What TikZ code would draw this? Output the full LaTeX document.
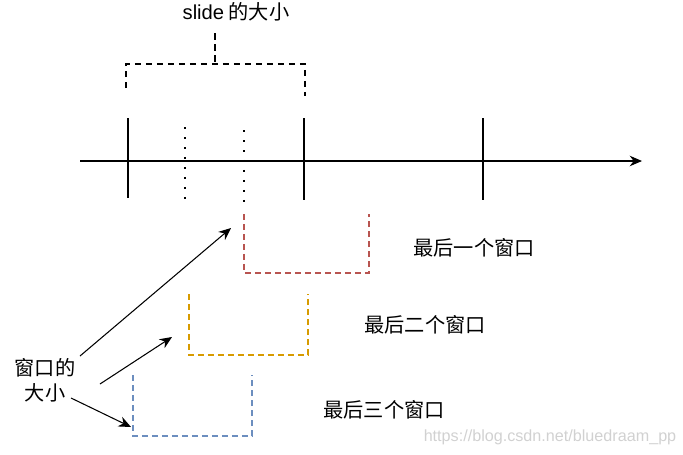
\documentclass[tikz,border=0pt]{standalone}
\usepackage{fontspec}
\setmainfont{Liberation Sans}
\newfontfamily\cjk{Noto Sans CJK SC}
\usepackage{tikz}
\usetikzlibrary{arrows.meta}
\definecolor{winred}{HTML}{B85450}
\definecolor{winorange}{HTML}{D79B00}
\definecolor{winblue}{HTML}{6C8EBF}
\tikzstyle{arrow} = [line width=0.6pt,-{Stealth[length=7pt,width=6pt]}]
\tikzstyle{tick} = [line width=0.6pt]
\tikzstyle{dotline} = [line width=1.2pt,dash pattern=on 1.2pt off 4.49pt]
\tikzstyle{win} = [line width=1.1pt,dash pattern=on 0.12cm off 0.08cm]
\tikzstyle{lbl} = [font=\fontsize{11.5}{14}\selectfont\cjk, inner sep=1pt]

\begin{document}
\begin{tikzpicture}[x=0.02cm,y=-0.02cm]
                            \useasboundingbox (0,0) rectangle (683,454);
                            \node[lbl] (slidelbl) at (236,12) {{\rmfamily slide} 的大小};
                            \draw [line width=1.1pt,dash pattern=on 0.13cm off 0.09cm] (215,33) -- (215,64);
                            \draw [line width=1.1pt,dash pattern=on 0.13cm off 0.09cm] (126,88) -- (126,64) -- (305,64) -- (305,96);
                            \coordinate (axl) at (80,161);
                            \coordinate (axr) at (642,161);
                            \draw [arrow] (axl) -- (axr);
                            \draw [tick] (128,118) -- (128,198);
                            \draw [tick] (304,118) -- (304,200);
                            \draw [tick] (483,118) -- (483,200);
                            \draw [dotline] (185,127) -- (185,201);
                            \draw [dotline] (244,130) -- (244,204);
                            \draw [win, winred] (244,214) -- (244,273) -- (369,273) -- (369,214);
                            \draw [win, winorange] (189,294) -- (189,355) -- (308,355) -- (308,294);
                            \draw [win, winblue] (133,375) -- (133,436) -- (252,436) -- (252,375);
                            \node[lbl] (last1) at (474,248) {最后一个窗口};
                            \node[lbl] (last2) at (425,325) {最后二个窗口};
                            \node[lbl] (last3) at (384,410) {最后三个窗口};
                            \node[lbl, align=center] (winsize) at (45,380) {窗口的\\大小};
                            \coordinate (from1) at (80,356);
                            \coordinate (from2) at (100,384);
                            \coordinate (from3) at (71,398);
                            \coordinate (to1) at (231,228);
                            \coordinate (to2) at (172,337);
                            \coordinate (to3) at (131,427);
                            \draw [arrow] (from1) -- (to1);
                            \draw [arrow] (from2) -- (to2);
                            \draw [arrow] (from3) -- (to3);
                            \node[text=black!18, font=\fontsize{9.2}{11}\selectfont] (mark) at (550,437) {https://blog.csdn.net/bluedraam\_pp};
                        \end{tikzpicture}
\end{document}
